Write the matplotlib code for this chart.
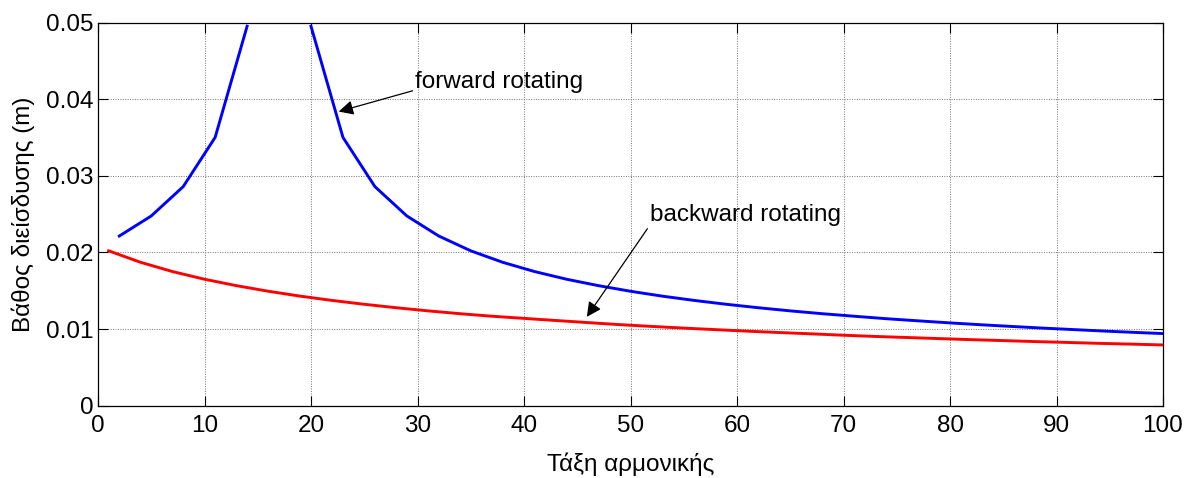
import numpy as np
import matplotlib
matplotlib.use("Agg")
import matplotlib.pyplot as plt

# Harmonic orders
h_forward = [2, 5, 8, 11, 14, 17, 20, 23, 26, 29, 32, 35, 38, 41, 44, 47, 50, 53, 56,
             59, 62, 65, 68, 71, 74, 77, 80, 83, 86, 89, 92, 95, 98, 101]
d_forward = [0.02215, 0.02477, 0.0286, 0.03503, 0.04954, np.nan, 0.04954, 0.03503,
             0.0286, 0.02477, 0.02215, 0.02022, 0.01872, 0.01751, 0.01651, 0.01567,
             0.01494, 0.0143, 0.01374, 0.01324, 0.01279, 0.01238, 0.01201, 0.01168,
             0.01136, 0.01108, 0.01081, 0.01056, 0.01033, 0.01011, 0.00991, 0.00971,
             0.00953, 0.00936]

h_backward = [1, 4, 7, 10, 13, 16, 19, 22, 25, 28, 31, 34, 37, 40, 43, 46, 49, 52, 55,
              58, 61, 64, 67, 70, 73, 76, 79, 82, 85, 88, 91, 94, 97, 100]
d_backward = [0.02022, 0.01872, 0.01751, 0.01651, 0.01567, 0.01494, 0.0143, 0.01374,
              0.01324, 0.01279, 0.01238, 0.01201, 0.01168, 0.0114, 0.01112, 0.01085,
              0.01058, 0.01035, 0.01013, 0.00993, 0.00973, 0.00955, 0.00938, 0.0092,
              0.00904, 0.0089, 0.00876, 0.00862, 0.0085, 0.00837, 0.00826, 0.00814,
              0.00804, 0.00793]

xticks = [0, 10, 20, 30, 40, 50, 60, 70, 80, 90, 100]
yticks = [0, 0.01, 0.02, 0.03, 0.04, 0.05]
ytick_labels = ["0", "0.01", "0.02", "0.03", "0.04", "0.05"]

plt.rcParams['font.family'] = ['Liberation Sans', 'DejaVu Sans']
FS = 17.5

fig = plt.figure(figsize=(11.95, 4.78), dpi=100)
ax = fig.add_axes([98/1195, 1 - 405.7/478, (1163-98)/1195, (405.7-22.7)/478])

ax.plot(h_forward, d_forward, color='#0000ff', lw=2.1, zorder=3)
ax.plot(h_backward, d_backward, color='#ff0000', lw=2.1, zorder=3)

ax.set_xlim(0, 100)
ax.set_ylim(0, 0.05)
ax.set_xticks(xticks)
ax.set_xticklabels([str(t) for t in xticks])
ax.set_yticks(yticks)
ax.set_yticklabels(ytick_labels)
ax.tick_params(direction='in', length=7.5, width=0.8, top=True, right=True,
               labelsize=FS, pad=3)
ax.tick_params(axis='x', pad=7)
ax.grid(True, color='0.45', linestyle=(0, (1, 1.5)), linewidth=0.7)
for s in ax.spines.values():
    s.set_linewidth(0.9)
    s.set_color('k')

ax.set_xlabel('Τάξη αρμονικής', fontsize=FS, labelpad=11)
ax.set_ylabel('Βάθος διείσδυσης (m)', fontsize=FS, labelpad=8)

ax.annotate('forward rotating', xy=(22.6, 0.0384), xytext=(29.8, 0.0423),
            fontsize=FS, va='center', ha='left',
            arrowprops=dict(arrowstyle='-|>', color='k', lw=0.9,
                            mutation_scale=22, shrinkA=0, shrinkB=0,
                            relpos=(-0.01, 0.1)))
ax.annotate('backward rotating', xy=(45.9, 0.0116), xytext=(51.8, 0.0249),
            fontsize=FS, va='center', ha='left',
            arrowprops=dict(arrowstyle='-|>', color='k', lw=0.9,
                            mutation_scale=22, shrinkA=0, shrinkB=0,
                            relpos=(-0.01, -0.1)))

fig.savefig('out.png', dpi=100)
